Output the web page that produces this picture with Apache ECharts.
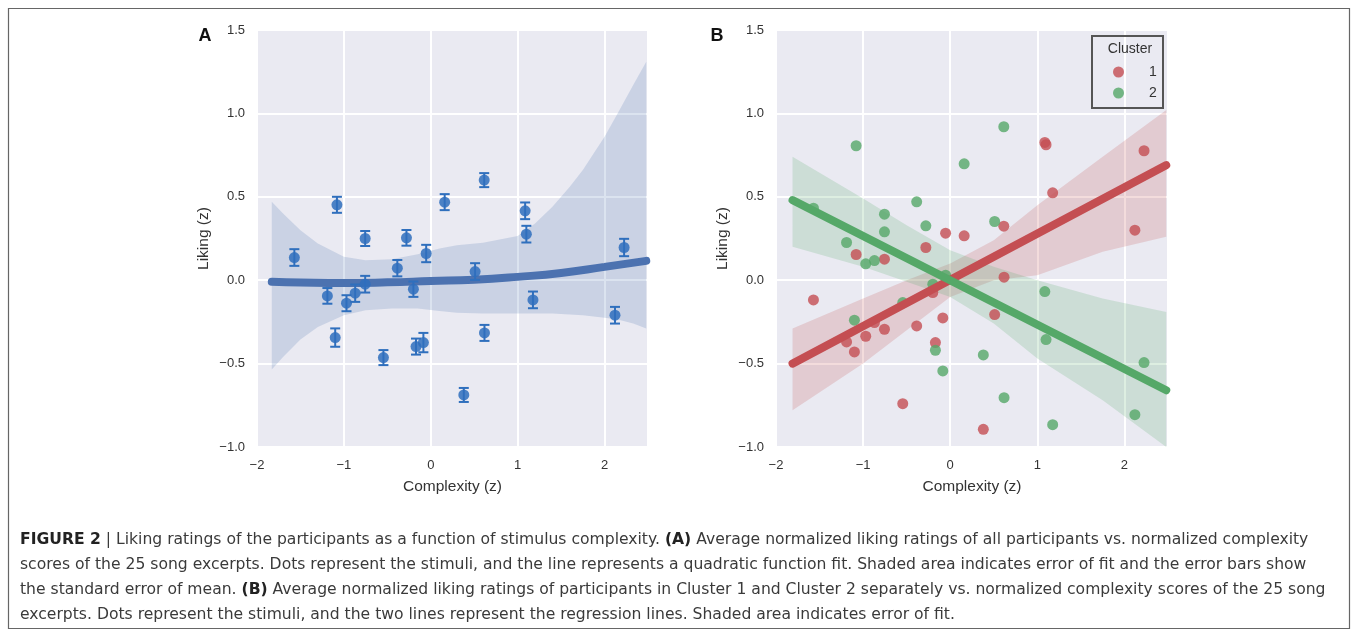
<!DOCTYPE html>
<html><head><meta charset="utf-8">
<script src="https://cdn.jsdelivr.net/npm/echarts@6/dist/echarts.min.js"></script>
<style>html,body{margin:0;padding:0;background:#fff}#c{width:1358px;height:635px}</style>
</head><body><div id="c"></div>
<script>
// ---- data ----
const complexity = [-1.57, -1.19, -1.10, -1.08, -0.97, -0.87, -0.755, -0.755, -0.545, -0.385, -0.28, -0.20, -0.17, -0.085, -0.053, 0.16, 0.38, 0.51, 0.615, 0.618, 1.086, 1.10, 1.176, 2.12, 2.225];
const likingMean = [0.136, -0.094, -0.344, 0.452, -0.138, -0.078, 0.25, -0.024, -0.464, 0.072, 0.254, -0.054, -0.398, -0.374, 0.16, 0.468, -0.688, 0.052, 0.60, -0.316, 0.416, 0.276, -0.118, -0.21, 0.196];
const likingSem = [0.05, 0.047, 0.055, 0.048, 0.048, 0.052, 0.045, 0.05, 0.045, 0.049, 0.047, 0.046, 0.048, 0.058, 0.052, 0.048, 0.042, 0.05, 0.042, 0.048, 0.05, 0.05, 0.05, 0.05, 0.052];
const fitX = [-1.83, -1.5, -1.0, -0.5, 0, 0.5, 1.0, 1.5, 2.0, 2.48];
const fitY = [-0.01, -0.014, -0.017, -0.013, -0.005, 0.003, 0.02, 0.043, 0.08, 0.116];
const bandAX = [-1.83, -1.7, -1.5, -1.3, -1.0, -0.75, -0.45, -0.15, 0.1, 0.3, 0.6, 1.0, 1.2, 1.4, 1.6, 1.75, 2.0, 2.15, 2.33, 2.48];
const bandAUpper = [0.47, 0.40, 0.30, 0.22, 0.14, 0.12, 0.125, 0.155, 0.19, 0.21, 0.225, 0.265, 0.34, 0.44, 0.56, 0.66, 0.86, 1.0, 1.17, 1.31];
const bandALower = [-0.535, -0.46, -0.355, -0.28, -0.21, -0.18, -0.17, -0.17, -0.185, -0.195, -0.2, -0.2, -0.2, -0.2, -0.205, -0.21, -0.225, -0.235, -0.26, -0.29];

const cluster1 = [-0.118, -0.37, -0.43, 0.154, -0.336, -0.254, 0.126, -0.294, -0.74, -0.274, 0.196, -0.074, -0.374, -0.226, 0.282, 0.266, -0.894, -0.206, 0.324, 0.018, 0.826, 0.812, 0.524, 0.30, 0.776];
const cluster2 = [0.432, 0.226, -0.24, 0.806, 0.098, 0.118, 0.396, 0.29, -0.134, 0.47, 0.326, -0.024, -0.42, -0.544, 0.03, 0.698, -0.448, 0.352, 0.92, -0.704, -0.068, -0.356, -0.866, -0.806, -0.494];
const regX = [-1.81, 2.48];
const reg1Y = [-0.50, 0.69];
const reg2Y = [0.48, -0.66];
const bandBX = [-1.81, -1.0, -0.5, 0, 0.5, 1.0, 1.75, 2.48];
const band1Upper = [-0.29, -0.11, 0.0, 0.10, 0.24, 0.45, 0.74, 1.02];
const band1Lower = [-0.78, -0.50, -0.30, -0.10, 0.0, 0.03, 0.17, 0.26];
const band2Upper = [0.74, 0.49, 0.33, 0.18, 0.08, 0.0, -0.11, -0.19];
const band2Lower = [0.20, 0.08, -0.01, -0.10, -0.26, -0.47, -0.72, -1.0];
const clusterNames = ['1', '2'];
const captionLines = [
  '{b|FIGURE 2} | Liking ratings of the participants as a function of stimulus complexity. {b|(A)} Average normalized liking ratings of all participants vs. normalized complexity',
  'scores of the 25 song excerpts. Dots represent the stimuli, and the line represents a quadratic function fit. Shaded area indicates error of fit and the error bars show',
  'the standard error of mean. {b|(B)} Average normalized liking ratings of participants in Cluster 1 and Cluster 2 separately vs. normalized complexity scores of the 25 song',
  'excerpts. Dots represent the stimuli, and the two lines represent the regression lines. Shaded area indicates error of fit.'
];

// ---- chart ----
const FONT = 'Liberation Sans, Arial, sans-serif';
const CAPFONT = 'DejaVu Sans, sans-serif';
const BLUE = '#4c72b0', DOT = '#2f6fbd', RED = '#c44e52', GREEN = '#55a868';
const minus = s => String(s).replace('-', '\u2212');

function xAx(gi) {
  return {gridIndex: gi, type: 'value', min: -2, max: 2.5, interval: 1,
    axisLine: {show: false}, axisTick: {show: false},
    splitLine: {show: true, lineStyle: {color: '#fff', width: 2}},
    axisLabel: {showMaxLabel: false, color: '#333', fontSize: 13, fontFamily: FONT, margin: 12,
      formatter: v => minus(Math.round(v))},
    name: 'Complexity (z)', nameLocation: 'middle', nameGap: 32,
    nameTextStyle: {fontSize: 15.5, color: '#333', fontFamily: FONT}};
}
function yAx(gi) {
  return {gridIndex: gi, type: 'value', min: -1, max: 1.5, interval: 0.5,
    axisLine: {show: false}, axisTick: {show: false},
    splitLine: {show: true, lineStyle: {color: '#fff', width: 2}},
    axisLabel: {color: '#333', fontSize: 13, fontFamily: FONT, margin: 12,
      formatter: v => minus((Math.abs(v) < 1e-9 ? 0 : v).toFixed(1))},
    name: 'Liking (z)', nameLocation: 'middle', nameGap: 45,
    nameTextStyle: {fontSize: 15.5, color: '#333', fontFamily: FONT}};
}
function band(gi, xs, up, lo, color) {
  return {type: 'custom', xAxisIndex: gi, yAxisIndex: gi, silent: true, z: 1,
    data: [[xs[0], up[0]]], encode: {x: 0, y: 1},
    renderItem: (params, api) => {
      const pts = [];
      for (let i = 0; i < xs.length; i++) pts.push(api.coord([xs[i], up[i]]));
      for (let i = xs.length - 1; i >= 0; i--) pts.push(api.coord([xs[i], lo[i]]));
      return {type: 'polygon', shape: {points: pts}, style: {fill: color}};
    }};
}
const pairs = (xs, ys) => xs.map((x, i) => [x, ys[i]]);

const chart = echarts.init(document.getElementById('c'), null, {renderer: 'canvas'});
const graphics = [
  {type: 'rect', shape: {x: 8.5, y: 8.5, width: 1341, height: 620}, style: {fill: 'none', stroke: '#666', lineWidth: 1.2}},
  {type: 'text', x: 205, y: 36, style: {text: 'A', fontSize: 18, fontWeight: 'bold', fill: '#111', fontFamily: FONT, align: 'center', verticalAlign: 'middle'}},
  {type: 'text', x: 717, y: 36, style: {text: 'B', fontSize: 18, fontWeight: 'bold', fill: '#111', fontFamily: FONT, align: 'center', verticalAlign: 'middle'}},
  {type: 'rect', shape: {x: 1092, y: 36, width: 71, height: 72}, style: {fill: 'none', stroke: '#555', lineWidth: 2}, z: 10},
  {type: 'text', x: 1130, y: 49, z: 10, style: {text: 'Cluster', fontSize: 14, fill: '#333', fontFamily: FONT, align: 'center', verticalAlign: 'middle'}}
];
captionLines.forEach((t, i) => {
  graphics.push({type: 'text', x: 20, y: 540 + i * 25, style: {
    text: t, fontSize: 15.6, fill: '#3a3a3a', fontFamily: CAPFONT, align: 'left', verticalAlign: 'middle',
    rich: {b: {fontWeight: 'bold', fontSize: 15.6, fill: '#222', fontFamily: CAPFONT}}}});
});

chart.setOption({
  animation: false,
  backgroundColor: '#fff',
  grid: [
    {left: 257, top: 30, width: 391, height: 417, show: true, backgroundColor: '#eaeaf2', borderWidth: 0},
    {left: 776, top: 30, width: 392, height: 417, show: true, backgroundColor: '#eaeaf2', borderWidth: 0}
  ],
  xAxis: [xAx(0), xAx(1)],
  yAxis: [yAx(0), yAx(1)],
  legend: {data: clusterNames, orient: 'vertical', left: 1108, top: 60, itemWidth: 11, itemHeight: 11, itemGap: 7,
    icon: 'circle', selectedMode: false, textStyle: {fontSize: 14, color: '#333', fontFamily: FONT, padding: [0, 0, 0, 20]}},
  graphic: graphics,
  series: [
    band(0, bandAX, bandAUpper, bandALower, 'rgba(76,114,176,0.2)'),
    {type: 'line', xAxisIndex: 0, yAxisIndex: 0, data: pairs(fitX, fitY), smooth: true, showSymbol: false, z: 2,
      lineStyle: {color: BLUE, width: 8, cap: 'round'}, silent: true},
    {type: 'custom', xAxisIndex: 0, yAxisIndex: 0, z: 3, silent: true,
      data: complexity.map((x, i) => [x, likingMean[i], likingSem[i]]), encode: {x: 0, y: 1},
      renderItem: (params, api) => {
        const x = api.value(0), m = api.value(1), s = api.value(2);
        const top = api.coord([x, m + s]), bot = api.coord([x, m - s]);
        const hw = 5, st = {stroke: DOT, lineWidth: 2};
        return {type: 'group', children: [
          {type: 'line', shape: {x1: top[0], y1: top[1], x2: bot[0], y2: bot[1]}, style: st},
          {type: 'line', shape: {x1: top[0] - hw, y1: top[1], x2: top[0] + hw, y2: top[1]}, style: st},
          {type: 'line', shape: {x1: bot[0] - hw, y1: bot[1], x2: bot[0] + hw, y2: bot[1]}, style: st}
        ]};
      }},
    {type: 'scatter', xAxisIndex: 0, yAxisIndex: 0, z: 4, data: pairs(complexity, likingMean), symbolSize: 11,
      itemStyle: {color: DOT, opacity: 0.85}},
    band(1, bandBX, band1Upper, band1Lower, 'rgba(196,78,82,0.2)'),
    band(1, bandBX, band2Upper, band2Lower, 'rgba(85,168,104,0.2)'),
    {name: clusterNames[0], type: 'scatter', xAxisIndex: 1, yAxisIndex: 1, z: 2, data: pairs(complexity, cluster1), symbolSize: 11,
      itemStyle: {color: RED, opacity: 0.8}},
    {name: clusterNames[1], type: 'scatter', xAxisIndex: 1, yAxisIndex: 1, z: 2, data: pairs(complexity, cluster2), symbolSize: 11,
      itemStyle: {color: GREEN, opacity: 0.8}},
    {type: 'line', xAxisIndex: 1, yAxisIndex: 1, z: 3, data: pairs(regX, reg1Y), showSymbol: false, silent: true,
      lineStyle: {color: RED, width: 8, cap: 'round'}},
    {type: 'line', xAxisIndex: 1, yAxisIndex: 1, z: 4, data: pairs(regX, reg2Y), showSymbol: false, silent: true,
      lineStyle: {color: GREEN, width: 8, cap: 'round'}}
  ]
});
</script></body></html>
